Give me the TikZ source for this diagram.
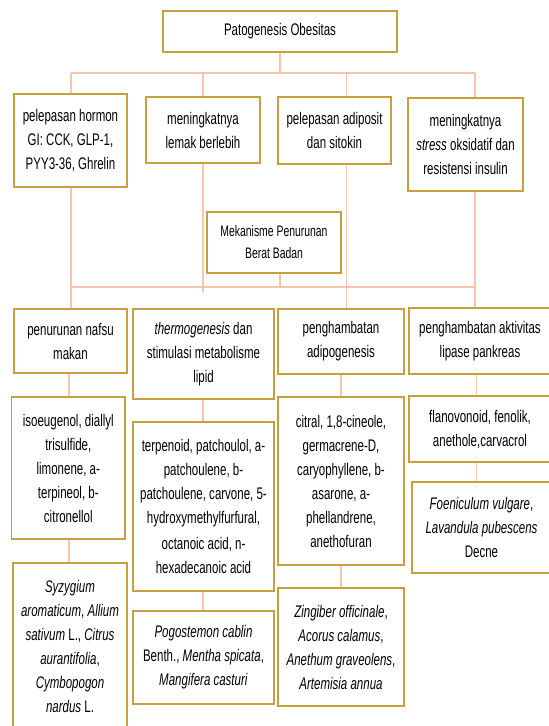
\documentclass[tikz,border=0pt]{standalone}
\usepackage{fontspec}
\setmainfont[FakeStretch=0.685]{Liberation Sans}
\definecolor{boxgold}{RGB}{198,160,62}
\definecolor{connpeach}{RGB}{248,196,170}
\tikzset{
  box/.style={draw=boxgold, line width=1.8pt, fill=white, inner sep=0pt, align=center,
    font=\fontsize{16.8}{24}\selectfont},
  conn/.style={draw=connpeach, line width=1.2pt},
}
\begin{document}
\begin{tikzpicture}[x=1pt,y=-1pt]
\fill[white] (0,0) rectangle (549,726);
\useasboundingbox (0,0) rectangle (549,726);

% x positions of connectors
\coordinate (v1) at (71,0);
\coordinate (v2) at (203,0);
\coordinate (v3) at (346.5,0);
\coordinate (v4) at (475,0);
\coordinate (vm) at (280,0);
\coordinate (w1) at (69,0);
\coordinate (w2) at (203,0);
\coordinate (w3) at (341,0);
\coordinate (w4) at (476.5,0);
\coordinate (bus1) at (0,73);
\coordinate (bus2) at (0,287);
\coordinate (stub) at (0,292);

% boxes
\node[box, minimum width=234pt, minimum height=41pt] (T) at (280,31.5) {Patogenesis Obesitas};

\node[box, minimum width=113pt, minimum height=93pt] (B1) at (70.5,140.5) {pelepasan hormon\\GI: CCK, GLP-1,\\PYY3-36, Ghrelin};
\node[box, minimum width=114pt, minimum height=66pt] (B2) at (203,130) {meningkatnya\\lemak berlebih};
\node[box, minimum width=113pt, minimum height=67pt] (B3) at (334.5,130.5) {pelepasan adiposit\\dan sitokin};
\node[box, minimum width=115pt, minimum height=93pt] (B4) at (465.5,144.5) {meningkatnya\\\textit{stress} oksidatif dan\\resistensi insulin};

\node[box, minimum width=133.5pt, minimum height=61pt, font=\fontsize{15.2}{22}\selectfont] (M) at (274,242.5) {Mekanisme Penurunan\\Berat Badan};

\node[box, minimum width=113pt, minimum height=64pt] (C1) at (70.5,341) {penurunan nafsu\\makan};
\node[box, minimum width=141pt, minimum height=90pt] (C2) at (203.5,354) {\textit{thermogenesis} dan\\stimulasi metabolisme\\lipid};
\node[box, minimum width=126pt, minimum height=65pt] (C3) at (341,341.5) {penghambatan\\adipogenesis};
\node[box, minimum width=142pt, minimum height=66pt] (C4) at (480,341) {penghambatan aktivitas\\lipase pankreas};

\node[box, minimum width=113.5pt, minimum height=142pt] (D1) at (68.3,468) {isoeugenol, diallyl\\trisulfide,\\limonene, a-\\terpineol, b-\\citronellol};
\node[box, minimum width=141pt, minimum height=169pt] (D2) at (203.5,506.5) {terpenoid, patchoulol, a-\\patchoulene, b-\\patchoulene, carvone, 5-\\hydroxymethylfurfural,\\[2pt]octanoic acid, n-\\hexadecanoic acid};
\node[box, minimum width=126pt, minimum height=168pt] (D3) at (341,481) {citral, 1,8-cineole,\\germacrene-D,\\caryophyllene, b-\\asarone, a-\\phellandrene,\\anethofuran};
\node[box, minimum width=142pt, minimum height=66pt] (D4) at (480,429) {flanovonoid, fenolik,\\anethole,carvacrol};

\node[box, minimum width=114pt, minimum height=166pt] (E1) at (70,646) {\textit{Syzygium}\\\textit{aromaticum}, \textit{Allium}\\\textit{sativum} L., \textit{Citrus}\\\textit{aurantifolia},\\\textit{Cymbopogon}\\\textit{nardus} L.};
\node[box, minimum width=141pt, minimum height=93pt] (E2) at (203.5,657.5) {\textit{Pogostemon cablin}\\Benth., \textit{Mentha spicata},\\\textit{Mangifera casturi}};
\node[box, minimum width=126pt, minimum height=118pt] (E3) at (341,647) {\textit{Zingiber officinale},\\\textit{Acorus calamus},\\\textit{Anethum graveolens},\\\textit{Artemisia annua}};
\node[box, minimum width=139pt, minimum height=91pt] (E4) at (481.5,527.5) {\textit{Foeniculum vulgare},\\\textit{Lavandula pubescens}\\Decne};

% connectors, top tree
\begin{scope}[on background layer/.style={}]
\draw[conn] (T.south -| vm) -- (vm |- bus1);
\draw[conn] (v1 |- bus1) -- (v4 |- bus1);
\draw[conn] (v1 |- bus1) -- (v1 |- B1.north);
\draw[conn] (v2 |- bus1) -- (v2 |- B2.north);
\draw[conn] (v3 |- bus1) -- (v3 |- B3.north);
\draw[conn] (v4 |- bus1) -- (v4 |- B4.north);

% middle
\draw[conn] (v1 |- B1.south) -- (v1 |- C1.north);
\draw[conn] (v2 |- B2.south) -- (v2 |- stub);
\draw[conn] (v3 |- B3.south) -- (v3 |- C3.north);
\draw[conn] (v4 |- B4.south) -- (v4 |- C4.north);
\draw[conn] (v1 |- bus2) -- (v4 |- bus2);
\draw[conn] (vm |- M.south) -- (vm |- bus2);

% lower chains
\draw[conn] (w1 |- C1.south) -- (w1 |- D1.north);
\draw[conn] (w2 |- C2.south) -- (w2 |- D2.north);
\draw[conn] (w3 |- C3.south) -- (w3 |- D3.north);
\draw[conn] (w4 |- C4.south) -- (w4 |- D4.north);
\draw[conn] (w1 |- D1.south) -- (w1 |- E1.north);
\draw[conn] (w2 |- D2.south) -- (w2 |- E2.north);
\draw[conn] (w3 |- D3.south) -- (w3 |- E3.north);
\draw[conn] (w4 |- D4.south) -- (w4 |- E4.north);
\end{scope}
\end{tikzpicture}
\end{document}
